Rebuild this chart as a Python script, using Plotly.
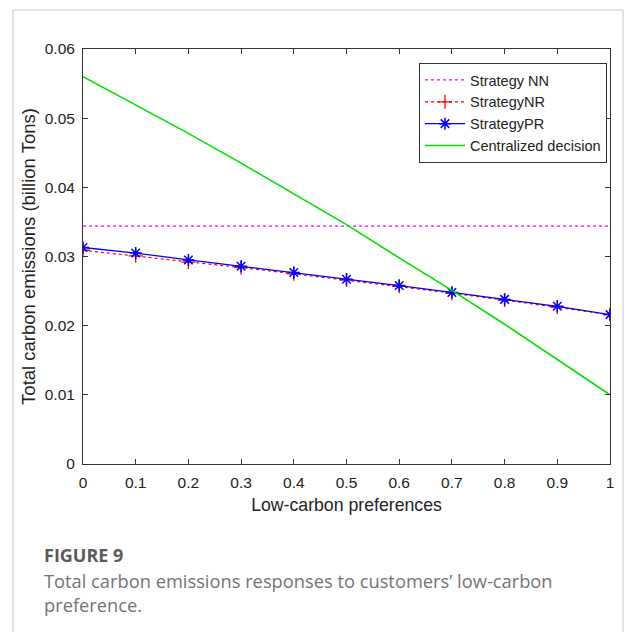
import plotly.graph_objects as go

x = [0, 0.1, 0.2, 0.3, 0.4, 0.5, 0.6, 0.7, 0.8, 0.9, 1.0]
nn = [0.0344] * 11
nr = [0.0309, 0.0301, 0.0292, 0.0284, 0.0275, 0.0266, 0.0257, 0.0247, 0.0237, 0.0227, 0.0216]
pr = [0.0313, 0.0305, 0.0295, 0.0286, 0.0277, 0.0267, 0.0258, 0.0248, 0.0238, 0.0228, 0.0216]
central = [0.0560, 0.0519, 0.0478, 0.0435, 0.0390, 0.0346, 0.0298, 0.0251, 0.0202, 0.0151, 0.0100]

xticks = [0, 0.1, 0.2, 0.3, 0.4, 0.5, 0.6, 0.7, 0.8, 0.9, 1]
xticklabels = ["0", "0.1", "0.2", "0.3", "0.4", "0.5", "0.6", "0.7", "0.8", "0.9", "1"]
yticks = [0, 0.01, 0.02, 0.03, 0.04, 0.05, 0.06]
yticklabels = ["0", "0.01", "0.02", "0.03", "0.04", "0.05", "0.06"]

fig = go.Figure()
fig.add_trace(go.Scatter(x=x, y=nn, mode="lines", name="Strategy NN",
                         line=dict(color="#ff00ff", width=1.2, dash="dot")))
fig.add_trace(go.Scatter(x=x, y=nr, mode="lines+markers", name="StrategyNR",
                         line=dict(color="#ff0000", width=1.2, dash="dot"),
                         marker=dict(symbol="cross-thin-open", size=10,
                                     line=dict(color="#ff0000", width=1.3))))
fig.add_trace(go.Scatter(x=x, y=pr, mode="lines+markers", name="StrategyPR",
                         line=dict(color="#0000ff", width=1.3),
                         marker=dict(symbol="asterisk-open", size=10,
                                     line=dict(color="#0000ff", width=1.5))))
fig.add_trace(go.Scatter(x=x, y=central, mode="lines", name="Centralized decision",
                         line=dict(color="#00e000", width=1.6)))

L, R, T, B = 83, 15, 49, 168
W, H = 625, 632
pw = W - L - R
ph = H - T - B

def px2x(px):
    return (px - L) / pw

def py2y(py):
    return (H - B - py) / ph

fig.add_shape(type="rect", xref="paper", yref="paper",
              x0=px2x(13), x1=px2x(623), y0=py2y(645), y1=py2y(10),
              line=dict(color="#c8c8c8", width=1), fillcolor="rgba(0,0,0,0)", layer="below")

fig.add_annotation(xref="paper", yref="paper", x=px2x(42), y=py2y(555),
                   xanchor="left", yanchor="middle", showarrow=False,
                   text="<b>FIGURE 9</b>", font=dict(family="Open Sans", size=18, color="#5a5a5a"))
fig.add_annotation(xref="paper", yref="paper", x=px2x(42), y=py2y(592),
                   xanchor="left", yanchor="middle", showarrow=False, align="left",
                   text="Total carbon emissions responses to customers\u2019 low-carbon<br>preference.",
                   font=dict(family="Open Sans", size=18.3, color="#747474"))

axis_common = dict(showline=True, linecolor="#333333", linewidth=1, mirror="ticks",
                   ticks="inside", ticklen=5, tickcolor="#333333", showgrid=False,
                   zeroline=False, tickfont=dict(family="Liberation Sans", size=15.5, color="#222222"))

fig.update_layout(
    width=W, height=H,
    margin=dict(l=L, r=R, t=T, b=B),
    paper_bgcolor="white", plot_bgcolor="white",
    xaxis=dict(range=[0, 1], tickvals=xticks, ticktext=xticklabels, ticklabelstandoff=4,
               title=dict(text="Low-carbon preferences", standoff=9,
                          font=dict(family="Liberation Sans", size=17.7, color="#222222")),
               **axis_common),
    yaxis=dict(range=[0, 0.06], tickvals=yticks, ticktext=yticklabels, ticklabelstandoff=4,
               title=dict(text="Total carbon emissions (billion Tons)", standoff=4,
                          font=dict(family="Liberation Sans", size=18.5, color="#222222")),
               **axis_common),
    legend=dict(x=px2x(607), y=py2y(63), xanchor="right", yanchor="top",
                bgcolor="white", bordercolor="#333333", borderwidth=1,
                font=dict(family="Liberation Sans", size=14.5, color="#222222"),
                tracegroupgap=0, itemwidth=40),
    showlegend=True,
)

fig.write_html("out.html")
